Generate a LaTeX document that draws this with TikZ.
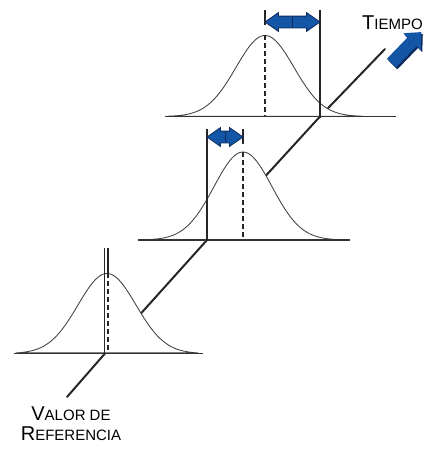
\documentclass[tikz,border=0pt]{standalone}
\usepackage{fontspec}
\setmainfont{Liberation Sans}
\usetikzlibrary{calc,shapes.arrows}

\definecolor{arrowblue}{RGB}{20,86,166}
\definecolor{arrowdark}{RGB}{12,42,92}

% fake small caps: big first letter, smaller rest
\newcommand{\smcap}[2]{{\fontsize{20}{20}\selectfont #1}{\fontsize{15}{15}\selectfont #2}}

\begin{document}
\begin{tikzpicture}[
  x=1pt, y=-1pt,
  declare function={bell(\u,\m,\h)=\h*exp(-((\u-\m)^2)/1682);},
  axisline/.style={line width=2pt, black!85, line cap=round},
  curve/.style={line width=0.85pt, black!75, fill=white},
  baseline/.style={line width=1.6pt, black!80},
  refline/.style={line width=1.5pt, black!85},
  meanline/.style={line width=1.2pt, black!85, dash pattern=on 5pt off 3pt},
  tick/.style={line width=1.2pt, black!85},
  dblarrow/.style={double arrow, fill=arrowblue, draw=arrowdark, line width=0.8pt,
    inner xsep=0pt, inner ysep=5.5pt, double arrow head extend=3.5pt,
    double arrow tip angle=70},
  bigarrow/.style={single arrow, fill=arrowblue, inner xsep=0pt, inner ysep=6pt,
    single arrow head extend=6pt, single arrow tip angle=85, minimum height=43pt,
    rotate=46},
  lbl/.style={inner sep=0pt, align=center}
  ]

\useasboundingbox (0,0) rectangle (423,451);

% reference points on the time axis
\coordinate (ref0) at (104.5,354);
\coordinate (ref1) at (207,240);
\coordinate (ref2) at (320,116.5);
\coordinate (tstart) at (67,397);
\coordinate (tend) at (385,49);

% time axis, partly hidden behind the curves
\draw [axisline] (tstart) -- (ref0) -- (ref1) -- (ref2) -- (tend);

% the three distributions
\draw [curve] plot [domain=16:198, samples=91] (\x, {353.5-bell(\x,107,80)}) -- cycle;
\draw [curve] plot [domain=140:347, samples=91] (\x, {240-bell(\x,243,88)}) -- cycle;
\draw [curve] plot [domain=168:363, samples=91] (\x, {116.5-bell(\x,265,81)}) -- cycle;

\draw [baseline] (14,353.5) -- (203,353.5);
\draw [baseline] (138,240) -- (350,240);
\draw [baseline] (165,116.5) -- (396,116.5);

% reference value and mean of each curve
\coordinate (r0) at (104.5,248);
\coordinate (m0) at (108,248);
\coordinate (r1) at (207,129);
\coordinate (m1) at (243,129);
\coordinate (r2) at (320,10);
\coordinate (m2) at (265,10);

\draw [refline] (r0) -- (104.5,355);
\draw [refline] (r1) -- (207,241);
\draw [refline] (r2) -- (320,117.5);

\draw [tick] (m0) -- (108,273);
\draw [tick] (m1) -- (243,144);
\draw [tick] (m2) -- (265,25);

\draw [meanline] (108,273) -- (108,353);
\draw [meanline] (243,152) -- (243,240);
\draw [meanline] (265,35) -- (265,116);

% drift between reference and mean
\node [dblarrow, minimum height=36pt] (d1) at ($(207,137)!0.5!(243,137)$) {};
\node [dblarrow, minimum height=55pt] (d2) at ($(265,22)!0.5!(320,22)$) {};
\draw [arrowdark, line width=0.8pt] ($(d1.center)+(0,-5)$) -- ($(d1.center)+(0,5)$);
\draw [arrowdark, line width=0.8pt] ($(d2.center)+(0,-5.5)$) -- ($(d2.center)+(0,5.5)$);

% time direction
\node [bigarrow, fill=arrowdark] (tarrowshade) at (405.5,52) {};
\node [bigarrow] (tarrow) at (404,50) {};

\node [lbl, anchor=base west] (tiempo) at (362,29.5) {\smcap{T}{IEMPO}};
\node [lbl, anchor=base] (valor) at (71,420) {\smcap{V}{ALOR DE}};
\node [lbl, anchor=base] (referencia) at (71,440) {\smcap{R}{EFERENCIA}};

\end{tikzpicture}
\end{document}
